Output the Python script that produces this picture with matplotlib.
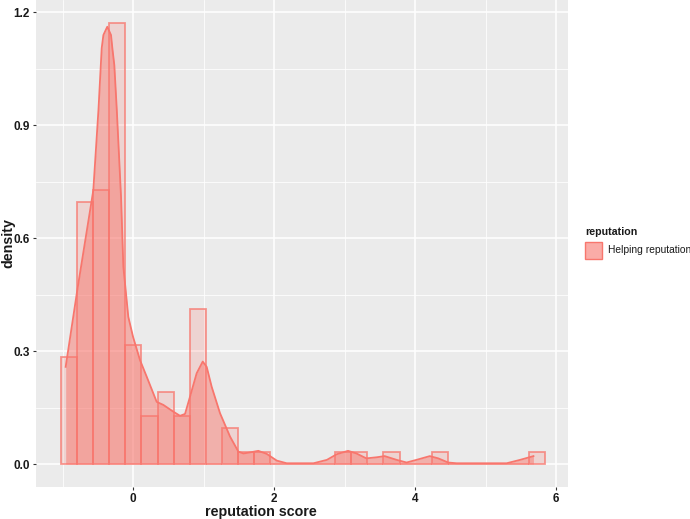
import numpy as np
import matplotlib.pyplot as plt
from matplotlib.patches import Rectangle
from matplotlib.ticker import MultipleLocator

plt.rcParams['font.family'] = ['Liberation Sans', 'DejaVu Sans']

# ---------------------------------------------------------------------------- #
# Data
# ---------------------------------------------------------------------------- #
bin_start = -1.026
bin_width = 0.2289
bin_counts = [9, 22, 23, 37, 10, 4, 6, 4, 13, 0,
              3, 1, 1, 0, 0, 0, 0, 1, 1, 0,
              1, 0, 0, 1, 0, 0, 0, 0, 0, 1]

density_x = [-0.955, -0.79, -0.586, -0.563, -0.49, -0.444, -0.42, -0.365, -0.312,
             -0.293, -0.265, -0.23, -0.17, -0.137, -0.067, 0.0, 0.099, 0.194, 0.336,
             0.43, 0.572, 0.667, 0.738, 0.809, 0.903, 0.989, 1.045, 1.116, 1.234,
             1.376, 1.494, 1.565, 1.636, 1.777, 1.896, 2.04, 2.18, 2.56, 2.75, 2.89,
             3.05, 3.17, 3.31, 3.46, 3.57, 3.74, 3.88, 4.02, 4.21, 4.33, 4.47, 4.59,
             5.30, 5.49, 5.68]
density_y = [0.258, 0.462, 0.70, 0.727, 0.94, 1.104, 1.139, 1.161, 1.139,
             1.104, 1.059, 0.94, 0.71, 0.524, 0.391, 0.338, 0.276, 0.232, 0.165,
             0.157, 0.139, 0.128, 0.133, 0.179, 0.241, 0.272, 0.258, 0.205, 0.135,
             0.073, 0.033, 0.028, 0.030, 0.035, 0.027, 0.009, 0.002, 0.002, 0.011, 0.026,
             0.035, 0.028, 0.015, 0.018, 0.021, 0.011, 0.004, 0.011, 0.021, 0.015, 0.004,
             0.002, 0.002, 0.011, 0.021]

group_label = "Helping reputation"
legend_title = "reputation"
# ---------------------------------------------------------------------------- #

red = '#F8766D'
W, H = 690, 519
edges = bin_start + bin_width * np.arange(len(bin_counts) + 1)
centers = (edges[:-1] + edges[1:]) / 2

fig = plt.figure(figsize=(6.9, 5.19), dpi=100)
ax = fig.add_axes([36 / W, 32 / H, 532 / W, 487 / H])
ax.set_facecolor('#EBEBEB')

# density layer
ax.fill_between(density_x, density_y, 0, color=red, alpha=0.5, linewidth=0, zorder=2)
ax.plot(density_x, density_y, color=red, lw=1.3, zorder=3)

# histogram layer
ax.hist(centers, bins=edges, weights=bin_counts, density=True,
        facecolor=(0.973, 0.463, 0.427, 0.2), edgecolor=(0.973, 0.463, 0.427, 0.75),
        linewidth=1.3, zorder=4)

# axes styling, ggplot look
ax.set_xlim(-1.376, 6.17)
ax.set_ylim(-0.061, 1.232)
ax.xaxis.set_major_locator(MultipleLocator(2))
ax.xaxis.set_minor_locator(MultipleLocator(1))
ax.yaxis.set_minor_locator(MultipleLocator(0.15))
ax.set_yticks([0.0, 0.3, 0.6, 0.9, 1.2])
ax.set_yticklabels(['0.0', '0.3', '0.6', '0.9', '1.2'])
ax.grid(which='major', color='white', lw=1.1, zorder=0)
ax.grid(which='minor', color='white', lw=0.55, zorder=0)
ax.set_axisbelow(True)
for s in ax.spines.values():
    s.set_visible(False)
ax.tick_params(which='major', length=2.5, width=0.8, color='#333333', labelsize=8.5,
               labelcolor='#1a1a1a', pad=2)
ax.tick_params(which='minor', length=0)
for lab in ax.get_xticklabels() + ax.get_yticklabels():
    lab.set_fontweight('bold')

fig.text(261 / W, 1 - 512 / H, 'reputation score', ha='center', va='center',
         fontsize=10.3, fontweight='bold', color='#1a1a1a')
fig.text(8 / W, 1 - 243 / H, 'density', ha='center', va='center', rotation=90,
         fontsize=10.3, fontweight='bold', color='#1a1a1a')

# legend
fig.text(585 / W, 1 - 232 / H, legend_title, ha='left', va='center',
         fontsize=7.7, fontweight='bold', color='#1a1a1a')
fig.patches.append(Rectangle((585 / W, 1 - 259 / H), 17 / W, 17 / H,
                             transform=fig.transFigure,
                             facecolor=(0.973, 0.463, 0.427, 0.6), edgecolor=red,
                             linewidth=1.0))
fig.text(608 / W, 1 - 250 / H, group_label, ha='left', va='center',
         fontsize=7.4, color='#1a1a1a')

plt.savefig('out.png', dpi=100)
